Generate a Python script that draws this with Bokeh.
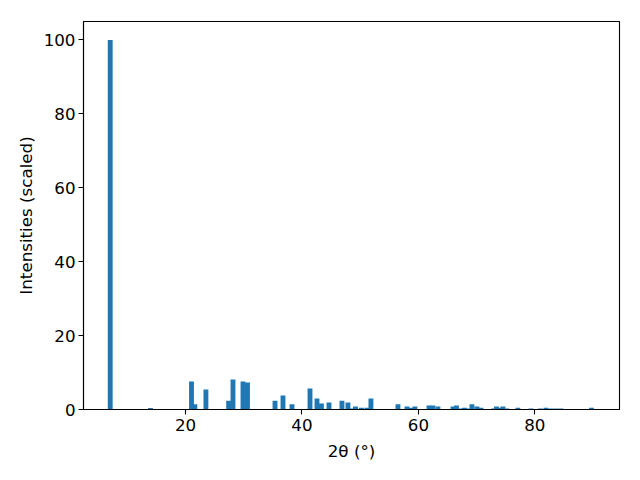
from bokeh.plotting import figure
from bokeh.models import Range1d, FixedTicker, ColumnDataSource
from bokeh.embed import file_html
from bokeh.resources import INLINE

two_theta = [7.06, 13.98, 21.02, 21.6, 23.5, 27.4, 28.15, 29.87, 30.64, 35.37,
             36.74, 38.29, 41.38, 42.58, 43.35, 44.64, 46.87, 47.9, 48.4, 49.19,
             50.22, 51.17, 51.85, 56.49, 58.04, 58.73, 59.41, 61.82, 62.5, 63.36,
             65.94, 66.54, 67.14, 67.92, 68.6, 69.2, 70.06, 70.75, 72.9, 73.41,
             74.0, 74.53, 75.21, 77.1, 79.33, 80.97, 81.91, 82.77, 83.63, 84.49, 89.73]
intensity = [100, 0.4, 7.6, 1.4, 5.4, 2.4, 8.1, 7.6, 7.3, 2.4,
             3.8, 1.4, 5.7, 3.0, 1.6, 1.9, 2.4, 1.9, 0.3, 0.8,
             0.5, 0.5, 3.0, 1.4, 0.8, 0.5, 0.8, 1.1, 1.1, 0.8,
             0.8, 1.1, 0.3, 0.5, 0.3, 1.4, 0.8, 0.5, 0.3, 0.8,
             0.5, 0.8, 0.3, 0.5, 0.3, 0.3, 0.5, 0.3, 0.3, 0.3, 0.5]
bar_width = 0.837
x_ticks = [20, 40, 60, 80]
y_ticks = [0, 20, 40, 60, 80, 100]

src = ColumnDataSource(data=dict(x=two_theta, top=intensity))

p = figure(width=624, height=464, output_backend="svg", toolbar_location=None,
           x_range=Range1d(2.47, 94.55), y_range=Range1d(0, 105),
           min_border_left=83, min_border_right=5, min_border_top=21, min_border_bottom=55)
p.vbar(x="x", top="top", bottom=0, width=bar_width, source=src,
       fill_color="#1f77b4", line_color=None)

p.grid.visible = False
p.outline_line_color = "black"
p.outline_line_width = 1.1

for ax in (p.xaxis[0], p.yaxis[0]):
    ax.axis_line_color = "black"
    ax.axis_line_width = 1.1
    ax.major_tick_line_color = "black"
    ax.major_tick_line_width = 1.1
    ax.major_tick_out = 5
    ax.major_tick_in = 0
    ax.minor_tick_line_color = None
    ax.major_label_text_font = "DejaVu Sans"
    ax.major_label_text_font_size = "16.7px"
    ax.major_label_text_color = "black"
    ax.axis_label_text_font = "DejaVu Sans"
    ax.axis_label_text_font_size = "16.7px"
    ax.axis_label_text_font_style = "normal"
    ax.axis_label_text_color = "black"

p.xaxis[0].ticker = FixedTicker(ticks=x_ticks)
p.yaxis[0].ticker = FixedTicker(ticks=y_ticks)
p.xaxis[0].axis_label = "2θ (°)"
p.yaxis[0].axis_label = "Intensities (scaled)"
p.xaxis[0].major_label_standoff = 4
p.yaxis[0].major_label_standoff = 3
p.xaxis[0].axis_label_standoff = 7
p.yaxis[0].axis_label_standoff = 5

open("out.html", "w").write(file_html(p, INLINE))
